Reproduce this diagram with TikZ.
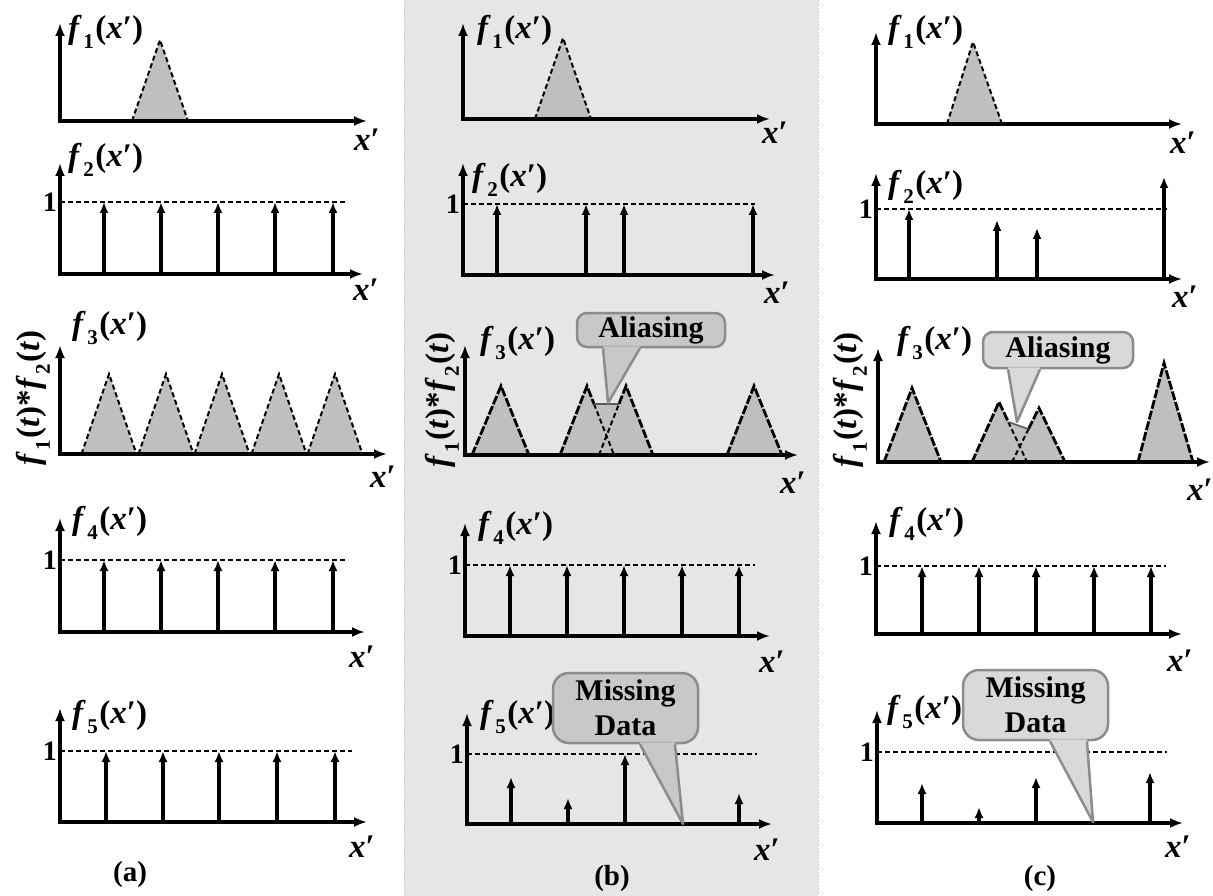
\documentclass[tikz,border=0pt]{standalone}
\usepackage{fontspec}
\setmainfont{Liberation Serif}
\usetikzlibrary{
  calc,
  positioning,
  arrows.meta
}
\definecolor{panelgray}{HTML}{E6E6E6}
\definecolor{trigray}{HTML}{BFBFBF}
\definecolor{calloutdark}{HTML}{C8C8C8}
\definecolor{calloutlight}{HTML}{D9D9D9}
\definecolor{calloutedge}{HTML}{8C8C8C}
\newcommand{\lowsub}[1]{\kern1.5pt\raisebox{-0.32em}{\fontsize{21}{22}\selectfont #1}\kern1.5pt}
\newcommand{\fx}[1]{\textit{f}\lowsub{#1}(\textit{x}′)}
\newcommand{\conv}{\textit{f}\lowsub{1}(\textit{t})*\textit{f}\lowsub{2}(\textit{t})}

\begin{document}
\begin{tikzpicture}[x=1pt,y=1pt]
  \tikzset{
    axes/.style={line width=4pt,{Latex[length=13pt,width=10pt]}-{Latex[length=13pt,width=10pt]}},
    spike/.style={line width=3.6pt,-{Latex[length=11pt,width=9pt]}},
    level/.style={line width=1.8pt,dash pattern=on 5pt off 3pt},
    tri/.style={fill=trigray,draw=black,line width=2pt,dash pattern=on 5pt off 3pt},
    bigtri/.style={fill=trigray,draw=black,line width=2.8pt,dash pattern=on 9pt off 2pt},
    flabel/.style={font=\fontsize{33}{35}\selectfont\bfseries,anchor=west,inner sep=0pt},
    xlabel/.style={font=\fontsize{33}{35}\selectfont\bfseries,inner sep=0pt},
    onelabel/.style={font=\fontsize{28}{30}\selectfont\bfseries,anchor=east,inner sep=0pt},
    sublabel/.style={font=\fontsize{29}{31}\selectfont\bfseries,inner sep=0pt},
    convlabel/.style={font=\fontsize{33}{35}\selectfont\bfseries,rotate=90,inner sep=0pt},
    calloutbox/.style={draw=calloutedge,line width=2.5pt,rounded corners=10pt,
      font=\fontsize{30}{35}\selectfont\bfseries,align=center,inner sep=0pt},
    tail/.style={draw=calloutedge,line width=2.5pt,line join=round}
  }
\useasboundingbox (0,-896) rectangle (1213,0);

% panel (b) background
\fill[panelgray] (404,-896) rectangle (818,0);
\draw[dotted,black!25] (404,-896) -- (404,0) (818,-896) -- (818,0);

%%%%%%%%%% column (a)
\begin{scope}[shift={(60,-121)}]
  \draw[tri] (72,0) -- (100,81) -- (128,0);
  \draw[axes] (0,98) -- (0,0) -- (307,0);
  \node[flabel] (fa1) at (8,89) {\fx{1}};
  \node[xlabel] (xa1) at (307,-19) {\textit{x}′};
\end{scope}

\begin{scope}[shift={(60,-274)}]
  \draw[level] (0,72) -- (288,72);
  \foreach \sx in {44,101,158,215,273}
    \draw[spike] (\sx,0) -- (\sx,72);
  \draw[axes] (0,111) -- (0,0) -- (303,0);
  \node[flabel] (fa2) at (8,114) {\fx{2}};
  \node[onelabel] (onea2) at (-3,72) {1};
  \node[xlabel] (xa2) at (306,-16) {\textit{x}′};
\end{scope}

\begin{scope}[shift={(60,-454)}]
  \foreach \tx in {49,106,162,219,275}
    \draw[tri] ($(\tx,0)+(-27.5,0)$) -- (\tx,80) -- ($(\tx,0)+(27.5,0)$);
  \draw[axes] (0,109) -- (0,0) -- (327,0);
  \node[flabel] (fa3) at (12,126) {\fx{3}};
  \node[convlabel] (conva) at (-27,56) {\conv};
  \node[xlabel] (xa3) at (323,-23) {\textit{x}′};
\end{scope}

\begin{scope}[shift={(60,-632)}]
  \draw[level] (0,72) -- (288,72);
  \foreach \sx in {44,101,158,215,273}
    \draw[spike] (\sx,0) -- (\sx,72);
  \draw[axes] (0,114) -- (0,0) -- (305,0);
  \node[flabel] (fa4) at (12,109) {\fx{4}};
  \node[onelabel] (onea4) at (-3,72) {1};
  \node[xlabel] (xa4) at (302,-25) {\textit{x}′};
\end{scope}

\begin{scope}[shift={(60,-822)}]
  \draw[level] (0,71) -- (292,71);
  \foreach \sx in {46,103,159,217,275}
    \draw[spike] (\sx,0) -- (\sx,71);
  \draw[axes] (0,114) -- (0,0) -- (307,0);
  \node[flabel] (fa5) at (12,105) {\fx{5}};
  \node[onelabel] (onea5) at (-3,71) {1};
  \node[xlabel] (xa5) at (302,-25) {\textit{x}′};
  \node[sublabel] (suba) at (70,-53) {(a)};
\end{scope}

%%%%%%%%%% column (b)
\begin{scope}[shift={(463,-119)}]
  \draw[tri] (72,0) -- (100,81) -- (128,0);
  \draw[axes] (0,96) -- (0,0) -- (307,0);
  \node[flabel] (fb1) at (14,87) {\fx{1}};
  \node[xlabel] (xb1) at (312,-14) {\textit{x}′};
\end{scope}

\begin{scope}[shift={(463,-275)}]
  \draw[level] (0,71) -- (292,71);
  \foreach \sx in {34,123,161,290}
    \draw[spike] (\sx,0) -- (\sx,71);
  \draw[axes] (0,112) -- (0,0) -- (312,0);
  \node[flabel] (fb2) at (9,95) {\fx{2}};
  \node[onelabel] (oneb2) at (-3,71) {1};
  \node[xlabel] (xb2) at (314,-18) {\textit{x}′};
\end{scope}

\begin{scope}[shift={(465,-455)}]
  \draw[bigtri] (7,0) -- (36,69) -- (64,0);
  \draw[bigtri] (262,0) -- (289,69) -- (317,0);
  \coordinate (b2l) at (95,0);
  \coordinate (b2t) at (122,69);
  \coordinate (b2r) at (149,0);
  \coordinate (b3l) at (134,0);
  \coordinate (b3t) at (161,69);
  \coordinate (b3r) at (188,0);
  \coordinate (bP) at ($(b2t)!0.26!(b2r)$);
  \coordinate (bQ) at ($(b3l)!0.74!(b3t)$);
  \fill[trigray] (b2l) -- (b2t) -- (bP) -- (bQ) -- (b3t) -- (b3r) -- cycle;
  \draw[bigtri,fill=none] (b2l) -- (b2t) -- (bP);
  \draw[bigtri,fill=none] (bQ) -- (b3t) -- (b3r);
  \draw[tri,fill=none] (bP) -- (b2r) (b3l) -- (bQ);
  \draw[line width=1.6pt,black!65] (bP) -- (bQ);
  \draw[axes] (0,110) -- (0,0) -- (333,0);
  \node[flabel] (fb3) at (15,112) {\fx{3}};
  \node[convlabel] (convb) at (-23,55) {\conv};
  \node[xlabel] (xb3) at (328,-28) {\textit{x}′};
  % callout
  \node[calloutbox,fill=calloutdark,minimum width=148pt,minimum height=34pt] (aliasb) at (186,125) {Aliasing};
  \coordinate (aliasb tip) at (143,52);
  \fill[calloutdark] ($(aliasb.south)+(-48,2)$) -- ($(aliasb.south)+(-48,0)$) -- (aliasb tip)
    -- ($(aliasb.south)+(-11,0)$) -- ($(aliasb.south)+(-11,2)$) -- cycle;
  \draw[tail] ($(aliasb.south)+(-48,0)$) -- (aliasb tip) -- ($(aliasb.south)+(-11,0)$);
\end{scope}

\begin{scope}[shift={(465,-636)}]
  \draw[level] (0,71) -- (290,71);
  \foreach \sx in {45,102,159,217,274}
    \draw[spike] (\sx,0) -- (\sx,71);
  \draw[axes] (0,113) -- (0,0) -- (305,0);
  \node[flabel] (fb4) at (13,108) {\fx{4}};
  \node[onelabel] (oneb4) at (-3,71) {1};
  \node[xlabel] (xb4) at (307,-26) {\textit{x}′};
\end{scope}

\begin{scope}[shift={(467,-824)}]
  \draw[level] (0,70) -- (290,70);
  \foreach \sx/\sh in {44/47,101/26,158/70,272/31}
    \draw[spike] (\sx,0) -- (\sx,\sh);
  \draw[axes] (0,111) -- (0,0) -- (305,0);
  \node[flabel] (fb5) at (13,107) {\fx{5}};
  \node[onelabel] (oneb5) at (-3,70) {1};
  \node[xlabel] (xb5) at (300,-26) {\textit{x}′};
  \node[sublabel] (subb) at (145,-55) {(b)};
  % callout
  \node[calloutbox,fill=calloutdark,rounded corners=16pt,minimum width=145pt,minimum height=70pt] (missb) at (158.5,116) {Missing\\Data};
  \coordinate (missb tip) at (216,0);
  \fill[calloutdark] ($(missb.south)+(14.5,2)$) -- ($(missb.south)+(14.5,0)$) -- (missb tip)
    -- ($(missb.south)+(49.5,0)$) -- ($(missb.south)+(49.5,2)$) -- cycle;
  \draw[tail] ($(missb.south)+(14.5,0)$) -- (missb tip) -- ($(missb.south)+(49.5,0)$);
\end{scope}

%%%%%%%%%% column (c)
\begin{scope}[shift={(876,-124)}]
  \draw[tri] (71,0) -- (97,82) -- (126,0);
  \draw[axes] (0,92) -- (0,0) -- (306,0);
  \node[flabel] (fc1) at (12,92) {\fx{1}};
  \node[xlabel] (xc1) at (307,-19) {\textit{x}′};
\end{scope}

\begin{scope}[shift={(876,-279)}]
  \draw[level] (0,70) -- (291,70);
  \foreach \sx/\sh in {33/70,121/59,161/51,288/102}
    \draw[spike] (\sx,0) -- (\sx,\sh);
  \draw[axes] (0,106) -- (0,0) -- (306,0);
  \node[flabel] (fc2) at (12,92) {\fx{2}};
  \node[onelabel] (onec2) at (-3,70) {1};
  \node[xlabel] (xc2) at (309,-18) {\textit{x}′};
\end{scope}

\begin{scope}[shift={(878,-462)}]
  \draw[bigtri] (6,0) -- (34,74) -- (63,0);
  \draw[bigtri] (260,0) -- (286,99) -- (315,0);
  \coordinate (c2l) at (94,0);
  \coordinate (c2t) at (121,60);
  \coordinate (c2r) at (149,0);
  \coordinate (c3l) at (134,0);
  \coordinate (c3t) at (161,54);
  \coordinate (c3r) at (187,0);
  \coordinate (cP) at ($(c2t)!0.333!(c2r)$);
  \coordinate (cQ) at ($(c3l)!0.61!(c3t)$);
  \fill[trigray] (c2l) -- (c2t) -- (cP) -- (cQ) -- (c3t) -- (c3r) -- cycle;
  \draw[bigtri,fill=none] (c2l) -- (c2t) -- (cP);
  \draw[bigtri,fill=none] (cQ) -- (c3t) -- (c3r);
  \draw[tri,fill=none] (cP) -- (c2r) (c3l) -- (cQ);
  \draw[line width=1.6pt,black!65] (cP) -- (cQ);
  \draw[axes] (0,114) -- (0,0) -- (332,0);
  \node[flabel] (fc3) at (19,119) {\fx{3}};
  \node[convlabel] (convc) at (-28,62) {\conv};
  \node[xlabel] (xc3) at (322,-28) {\textit{x}′};
  % callout
  \node[calloutbox,fill=calloutlight,minimum width=150pt,minimum height=36pt] (aliasc) at (180,112) {Aliasing};
  \coordinate (aliasc tip) at (139,40);
  \fill[calloutlight] ($(aliasc.south)+(-50,2)$) -- ($(aliasc.south)+(-50,0)$) -- (aliasc tip)
    -- ($(aliasc.south)+(-18,0)$) -- ($(aliasc.south)+(-18,2)$) -- cycle;
  \draw[tail] ($(aliasc.south)+(-50,0)$) -- (aliasc tip) -- ($(aliasc.south)+(-18,0)$);
\end{scope}

\begin{scope}[shift={(876,-634)}]
  \draw[level] (0,68) -- (290,68);
  \foreach \sx in {46,103,160,218,275}
    \draw[spike] (\sx,0) -- (\sx,68);
  \draw[axes] (0,113) -- (0,0) -- (306,0);
  \node[flabel] (fc4) at (13,110) {\fx{4}};
  \node[onelabel] (onec4) at (-3,68) {1};
  \node[xlabel] (xc4) at (304,-27) {\textit{x}′};
\end{scope}

\begin{scope}[shift={(877,-823)}]
  \draw[level] (0,71) -- (290,71);
  \foreach \sx/\sh in {45/40,102/16,159/46,273/51}
    \draw[spike] (\sx,0) -- (\sx,\sh);
  \draw[axes] (0,113) -- (0,0) -- (306,0);
  \node[flabel] (fc5) at (10,111) {\fx{5}};
  \node[onelabel] (onec5) at (-3,71) {1};
  \node[xlabel] (xc5) at (301,-24) {\textit{x}′};
  \node[sublabel] (subc) at (163,-56) {(c)};
  % callout
  \node[calloutbox,fill=calloutlight,rounded corners=16pt,minimum width=145pt,minimum height=70pt] (missc) at (158.5,118) {Missing\\Data};
  \coordinate (missc tip) at (216,1);
  \fill[calloutlight] ($(missc.south)+(14.5,2)$) -- ($(missc.south)+(14.5,0)$) -- (missc tip)
    -- ($(missc.south)+(51.5,0)$) -- ($(missc.south)+(51.5,2)$) -- cycle;
  \draw[tail] ($(missc.south)+(14.5,0)$) -- (missc tip) -- ($(missc.south)+(51.5,0)$);
\end{scope}

\end{tikzpicture}
\end{document}
